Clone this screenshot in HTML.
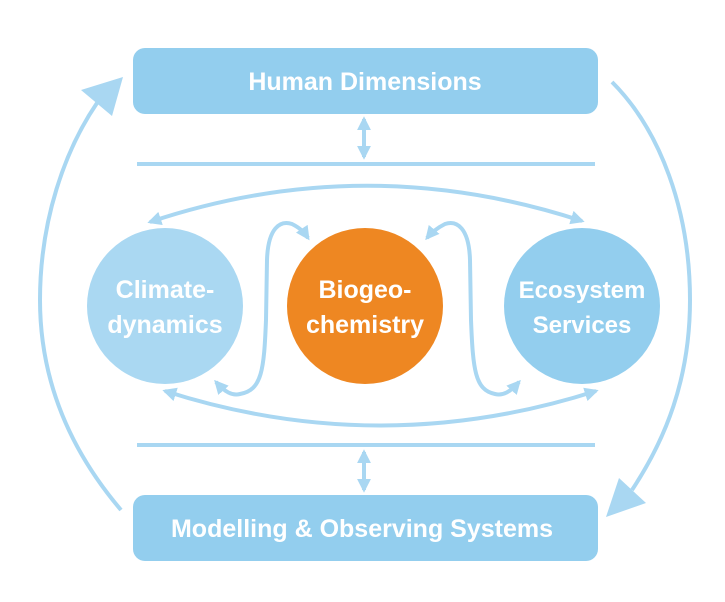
<!DOCTYPE html>
<html><head><meta charset="utf-8"><style>
html,body{margin:0;padding:0;background:#fff;}
svg{display:block;}
text{font-family:"Liberation Sans",sans-serif;font-weight:bold;fill:#fff;text-anchor:middle;}
</style></head><body>
<svg width="725" height="602" viewBox="0 0 725 602" xmlns="http://www.w3.org/2000/svg">
<defs>
<marker id="a" viewBox="0 0 10 10" refX="8" refY="5" markerWidth="3.5" markerHeight="3.5" orient="auto-start-reverse" markerUnits="strokeWidth">
<path d="M0,0 L10,5 L0,10 z" fill="#a9d7f2"/></marker>
</defs>
<rect x="133" y="48" width="465" height="66" rx="12" fill="#93ceee"/>
<text x="365" y="90" font-size="25">Human Dimensions</text>
<rect x="133" y="495" width="465" height="66" rx="12" fill="#93ceee"/>
<text x="362" y="537" font-size="25">Modelling &amp; Observing Systems</text>

<line x1="137" y1="164" x2="595" y2="164" stroke="#a9d7f2" stroke-width="4"/>
<line x1="137" y1="445" x2="595" y2="445" stroke="#a9d7f2" stroke-width="4"/>
<line x1="364" y1="119" x2="364" y2="157" stroke="#a9d7f2" stroke-width="4" marker-start="url(#a)" marker-end="url(#a)"/>
<line x1="364" y1="452" x2="364" y2="490" stroke="#a9d7f2" stroke-width="4" marker-start="url(#a)" marker-end="url(#a)"/>

<circle cx="165" cy="306" r="78" fill="#aad8f2"/>
<circle cx="365" cy="306" r="78" fill="#ee8722"/>
<circle cx="582" cy="306" r="78" fill="#93ceee"/>
<text x="165" y="298" font-size="25">Climate-</text>
<text x="165" y="333" font-size="25">dynamics</text>
<text x="365" y="298" font-size="25">Biogeo-</text>
<text x="365" y="333" font-size="25">chemistry</text>
<text x="582" y="298" font-size="24">Ecosystem</text>
<text x="582" y="333" font-size="24">Services</text>

<g fill="none" stroke="#a9d7f2" stroke-width="4">
<path d="M150,222 Q365,150 582,221" marker-start="url(#a)" marker-end="url(#a)"/>
<path d="M165,391 Q380,460 596,391" marker-start="url(#a)" marker-end="url(#a)"/>
<path d="M216,382 C225,392 232,396 240,394 C262,390 264,370 266,320 L267,260 C268,228 280,220 292,224 C300,228 304,232 308,238" marker-start="url(#a)" marker-end="url(#a)"/>
<path d="M519,382 C510,392 503,396 495,394 C475,390 473,370 471,320 L470,260 C469,228 457,220 445,224 C437,228 432,232 427,238" marker-start="url(#a)" marker-end="url(#a)"/>
<path d="M121,510 C70,450 40,380 40,300 C40,220 65,150 97,103"/>
<path d="M612,82 C660,130 690,210 690,300 C690,380 665,440 632,490"/>
</g>
<polygon points="123,77 81,90 112,116" fill="#a9d7f2"/>
<polygon points="606,517 619,478 646,503" fill="#a9d7f2"/>
</svg>
</body></html>
